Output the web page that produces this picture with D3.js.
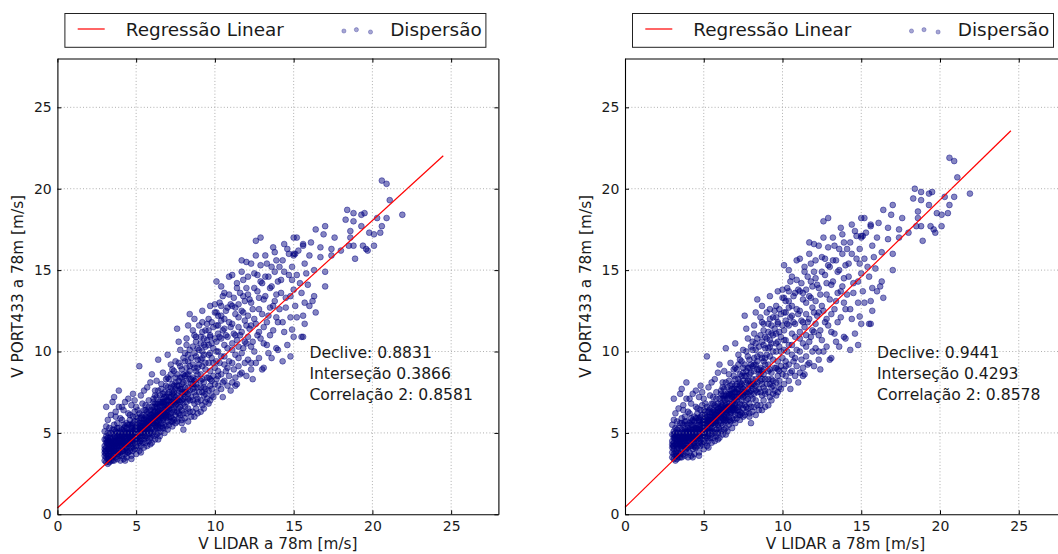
<!DOCTYPE html>
<html>
<head>
<meta charset="utf-8">
<script src="https://cdn.jsdelivr.net/npm/d3@7"></script>
<style>
  html, body { margin: 0; padding: 0; background: #fff; overflow: hidden; }
  svg { display: block; font-family: "DejaVu Sans", "Bitstream Vera Sans", sans-serif; }
</style>
</head>
<body>
<svg id="chart" width="1058" height="554"></svg>
<script>
// Wind speed at 78 m: LIDAR reference (x) against two PORT433 records (y), one pair per sample.
const lidar = [
  // 3.0-3.5
  3.0,3.0,3.0,3.0,3.0,3.1,3.1,3.1,3.1,3.1, 3.1,3.1,3.2,3.2,3.2,3.2,3.2,3.2,3.2,3.3,
  3.3,3.3,3.3,3.3,3.3,3.3,3.4,3.4,3.4,3.4, 3.4,3.4,3.5,3.5,3.5,3.5,3.5,3.5,3.0,3.1,
  3.2,3.3,3.4,3.5,3.0,3.2,3.4,3.1,3.3,3.5,
  // 3.5-4.0
  3.6,3.6,3.6,3.6,3.6,3.6,3.7,3.7,3.7,3.7, 3.7,3.7,3.8,3.8,3.8,3.8,3.8,3.8,3.9,3.9,
  3.9,3.9,3.9,3.9,4.0,4.0,4.0,4.0,4.0,4.0, 3.6,3.7,3.8,3.9,4.0,3.6,3.7,3.8,3.9,4.0,
  3.6,3.8,3.7,3.9,3.6,
  // 4.0-4.5
  4.1,4.1,4.1,4.1,4.1,4.1,4.2,4.2,4.2,4.2, 4.2,4.2,4.3,4.3,4.3,4.3,4.3,4.3,4.4,4.4,
  4.4,4.4,4.4,4.4,4.5,4.5,4.5,4.5,4.5,4.5, 4.1,4.2,4.3,4.4,4.5,4.1,4.2,4.3,4.4,4.5,
  4.2,4.4,4.1,4.3,4.5,
  // 4.5-5.0
  4.6,4.6,4.6,4.6,4.6,4.6,4.7,4.7,4.7,4.7, 4.7,4.7,4.8,4.8,4.8,4.8,4.8,4.8,4.9,4.9,
  4.9,4.9,4.9,4.9,5.0,5.0,5.0,5.0,5.0,5.0, 4.6,4.7,4.8,4.9,5.0,4.6,4.7,4.8,4.9,5.0,
  4.6,4.8,5.0,4.7,4.9,
  // 5.0-5.5
  5.1,5.1,5.1,5.1,5.1,5.1,5.2,5.2,5.2,5.2, 5.2,5.2,5.3,5.3,5.3,5.3,5.3,5.3,5.4,5.4,
  5.4,5.4,5.4,5.4,5.5,5.5,5.5,5.5,5.5,5.5, 5.1,5.2,5.3,5.4,5.5,5.2,5.4,5.1,5.3,5.5,
  5.3,5.5,
  // 5.5-6.0
  5.6,5.6,5.6,5.6,5.6,5.6,5.7,5.7,5.7,5.7, 5.7,5.7,5.8,5.8,5.8,5.8,5.8,5.8,5.9,5.9,
  5.9,5.9,5.9,5.9,6.0,6.0,6.0,6.0,6.0,6.0, 5.6,5.7,5.8,5.9,6.0,5.7,5.9,5.6,5.8,6.0,
  // 6.0-6.5
  6.1,6.1,6.1,6.1,6.1,6.1,6.2,6.2,6.2,6.2, 6.2,6.2,6.3,6.3,6.3,6.3,6.3,6.3,6.4,6.4,
  6.4,6.4,6.4,6.4,6.5,6.5,6.5,6.5,6.5,6.5, 6.1,6.2,6.3,6.4,6.5,6.2,6.4,6.3,
  // 6.5-7.0
  6.6,6.6,6.6,6.6,6.6,6.6,6.7,6.7,6.7,6.7, 6.7,6.7,6.8,6.8,6.8,6.8,6.8,6.8,6.9,6.9,
  6.9,6.9,6.9,6.9,7.0,7.0,7.0,7.0,7.0,7.0, 6.6,6.8,7.0,6.7,6.9,7.0,
  // 7.0-7.5
  7.1,7.1,7.1,7.1,7.1,7.1,7.2,7.2,7.2,7.2, 7.2,7.2,7.3,7.3,7.3,7.3,7.3,7.3,7.4,7.4,
  7.4,7.4,7.4,7.4,7.5,7.5,7.5,7.5,7.5,7.5, 7.2,7.4,
  // 7.5-8.0
  7.6,7.6,7.6,7.6,7.6,7.6,7.7,7.7,7.7,7.7, 7.7,7.7,7.8,7.8,7.8,7.8,7.8,7.8,7.9,7.9,
  7.9,7.9,7.9,7.9,8.0,8.0,8.0,8.0,8.0,8.0,
  // 8.0-8.5
  8.1,8.1,8.1,8.1,8.1,8.1,8.2,8.2,8.2,8.2, 8.2,8.2,8.3,8.3,8.3,8.3,8.3,8.3,8.4,8.4,
  8.4,8.4,8.4,8.4,8.5,8.5,
  // 8.5-9.0
  8.6,8.6,8.6,8.6,8.6,8.6,8.7,8.7,8.7,8.7, 8.7,8.7,8.8,8.8,8.8,8.8,8.8,8.8,8.9,8.9,
  8.9,8.9,8.9,9.0,
  // 9.0-9.5
  9.1,9.1,9.1,9.1,9.1,9.1,9.2,9.2,9.2,9.2, 9.2,9.2,9.3,9.3,9.3,9.3,9.3,9.4,9.4,9.4,
  9.4,9.5,
  // 9.5-10
  9.6,9.6,9.6,9.6,9.6,9.6,9.7,9.7,9.7,9.7, 9.7,9.8,9.8,9.8,9.8,9.9,9.9,9.9,10.0,10.0,
  // 10-11
  10.1,10.1,10.1,10.1,10.1,10.1,10.2,10.2,10.2,10.2, 10.2,10.4,10.4,10.4,10.4,10.4,10.4,10.5,10.6,10.6,
  10.6,10.6,10.6,10.7,10.8,10.8,10.8,10.9,10.9,11.0,
  // 11-12
  11.1,11.1,11.1,11.1,11.1,11.1,11.3,11.3,11.3,11.3, 11.4,11.4,11.5,11.5,11.5,11.5,11.7,11.7,11.7,11.7,
  11.8,11.8,11.9,11.9,12.0,12.0,
  // 12-13
  12.1,12.1,12.1,12.1,12.3,12.3,12.3,12.3,12.3,12.5, 12.5,12.5,12.6,12.6,12.7,12.7,12.8,12.8,12.9,12.9,
  12.4,12.9,
  // 13-14
  13.0,13.1,13.1,13.1,13.2,13.3,13.3,13.4,13.5,13.5, 13.6,13.7,13.7,13.8,13.8,13.9,13.9,14.0,
  // 14-15
  14.1,14.2,14.3,14.3,14.4,14.4,14.5,14.6,14.7,14.7, 14.8,14.8,14.9,14.9,15.0,15.0,
  // 15-16
  15.0,15.1,15.0,15.2,15.0,15.2,15.4,15.6,15.6,15.6, 15.6,15.7,15.7,15.8,15.5,
  // 16-17
  16.0,16.1,16.2,16.3,16.3,16.4,16.4,16.7,16.7,16.9,
  // 17-18
  17.0,17.0,17.0,17.4,17.4,17.6,18.0,
  // 18-19
  18.3,18.4,18.5,18.6,18.6,18.8,18.8,18.8,18.9,
  // 19-20
  19.3,19.3,19.4,19.5,19.6,19.7,19.8,
  // 20-22
  20.1,20.1,20.3,20.5,20.6,20.6,20.9,20.9,21.1,21.9,
  // second block: 6-8
  6.1,6.2,6.3,6.4,6.5,6.6,6.7,6.8,6.9,7.0, 7.0,7.1,7.1,7.2,7.2,7.3,7.3,7.4,7.4,7.5,
  7.5,7.6,7.6,7.7,7.7,7.8,7.8,7.9,7.9,8.0, 6.2,6.4,6.6,6.8,7.0,7.3,7.5,7.7,7.9,8.0,
  // second block: 8-10
  8.1,8.1,8.2,8.2,8.3,8.3,8.4,8.4,8.5,8.5, 8.6,8.6,8.7,8.7,8.8,8.8,8.9,8.9,9.0,9.0,
  9.0,9.1,9.1,9.2,9.2,9.3,9.3,9.4,9.4,9.5, 9.5,9.5,9.6,9.6,9.7,9.7,9.8,9.8,9.9,9.9,
  10.0,10.0,10.0,8.3,8.5,8.7,8.9,9.2,9.4,9.7,
  // second block: 10-12
  10.1,10.1,10.2,10.2,10.3,10.3,10.3,10.4,10.5,10.5, 10.5,10.6,10.6,10.7,10.7,10.8,10.8,10.9,10.9,11.0,
  11.0,11.1,11.2,11.2,11.2,11.3,11.4,11.4,11.5,11.5, 11.6,11.6,11.6,11.7,11.8,11.8,11.9,11.9,12.0,12.0,
  10.4,10.9,11.3,11.7,12.0,
  // second block: 12-14
  12.1,12.2,12.2,12.3,12.4,12.4,12.5,12.6,12.6,12.7, 12.8,12.8,12.9,13.0,13.0,13.1,13.2,13.2,13.3,13.4,
  13.4,13.5,13.6,13.6,13.7,13.8,13.9,13.9,14.0,14.0,
  // second block: 14-16
  14.1,14.2,14.3,14.4,14.5,14.6,14.8,14.9,15.1,15.2, 15.3,15.5,15.7,15.9,16.0,
  // second block: 3-7 core
  3.05,3.15,3.25,3.35,3.45,3.55,3.65,3.75,3.85,3.95, 4.05,4.15,4.25,4.35,4.45,4.55,4.65,4.75,4.85,4.95,
  5.05,5.15,5.25,5.35,5.45,5.55,5.65,5.75,5.85,5.95, 6.05,6.15,6.25,6.35,6.45,6.55,6.65,6.75,6.85,6.95,
  3.1,3.3,3.5,3.7,3.9,4.1,4.3,4.5,4.7,4.9, 5.1,5.3,5.5,5.7,5.9,6.1,6.3,6.5,6.7,6.9
];

const port433A = [
  3.3,3.8,4.2,4.6,5.1,3.2,3.5,3.9,4.4,4.8, 5.4,6.6,3.1,3.6,4.0,4.3,4.7,5.0,5.8,3.4,
  3.7,4.1,4.5,4.9,3.2,5.3,3.3,3.8,4.2,4.6, 5.0,6.1,3.5,3.9,4.3,4.7,5.2,6.9,3.6,4.1,
  4.5,3.9,4.4,4.0,4.0,3.4,3.6,3.7,4.3,3.3,

  3.3,3.7,4.1,4.5,4.9,5.5,3.5,3.9,4.3,4.7, 5.1,6.3,3.4,3.8,4.2,4.6,5.0,5.6,3.6,4.0,
  4.4,4.8,5.3,7.6,3.3,3.8,4.2,4.6,5.0,5.9, 4.3,4.0,4.4,4.2,4.4,3.9,4.5,4.8,3.8,4.8,
  5.2,5.3,6.0,6.6,7.2,

  3.6,4.0,4.4,4.8,5.2,5.8,3.4,3.9,4.3,4.7, 5.1,6.4,3.7,4.1,4.5,4.9,5.4,6.9,3.5,3.9,
  4.3,4.7,5.0,5.6,3.8,4.2,4.6,5.0,5.5,6.2, 4.6,4.5,4.3,4.5,4.4,4.2,4.9,5.1,4.1,4.8,
  5.5,5.3,6.6,3.3,7.1,

  3.9,4.3,4.7,5.1,5.5,6.1,3.6,4.1,4.5,4.9, 5.3,6.7,3.9,4.3,4.7,5.1,5.6,7.4,4.0,4.4,
  4.8,5.2,5.7,6.3,3.7,4.2,4.6,5.0,5.4,6.0, 4.9,4.7,4.5,5.0,4.8,4.5,5.1,4.9,4.6,5.2,
  5.8,6.0,6.6,3.4,7.0,

  4.1,4.5,4.9,5.3,5.7,6.4,3.9,4.4,4.8,5.2, 5.6,9.1,4.2,4.6,5.0,5.4,5.9,7.3,4.4,4.8,
  5.2,5.6,6.1,6.8,4.1,4.6,5.0,5.4,5.8,6.4, 5.1,5.0,5.2,5.4,5.2,6.2,5.0,4.7,5.6,7.6,
  3.8,5.6,

  4.4,4.8,5.2,5.6,6.0,6.7,4.2,4.7,5.1,5.5, 5.9,7.8,4.5,4.9,5.3,5.7,6.2,7.0,4.7,5.1,
  5.5,5.9,6.4,8.1,4.4,4.9,5.3,5.7,6.1,6.6, 5.4,5.3,5.5,5.7,5.9,6.3,4.3,6.4,6.6,8.6,

  4.8,5.2,5.6,6.0,6.4,7.1,4.6,5.1,5.5,5.9, 6.3,7.6,4.9,5.3,5.7,6.1,6.6,8.2,5.0,5.5,
  5.9,6.3,6.8,9.5,4.8,5.3,5.8,6.2,6.6,7.3, 5.8,6.0,6.0,6.1,6.0,6.8,4.6,7.2,

  5.1,5.6,6.0,6.4,6.9,7.7,5.3,5.8,6.2,6.6, 7.1,8.7,5.0,5.5,6.0,6.4,6.9,7.5,5.4,5.9,
  6.3,6.7,7.2,8.3,5.2,5.7,6.1,6.6,7.0,7.8, 6.2,6.7,6.4,7.4,6.5,9.8,

  5.5,6.0,6.5,7.0,7.5,8.3,5.7,6.2,6.7,7.2, 7.8,9.2,5.4,5.9,6.4,6.9,7.4,8.0,5.8,6.3,
  6.8,7.3,7.9,8.8,5.6,6.1,6.7,7.2,7.7,8.4, 6.9,7.0,

  5.7,6.3,6.8,7.3,7.9,11.4,5.9,6.5,7.0,7.6, 8.2,9.3,6.1,6.6,7.2,7.7,8.4,10.1,5.8,6.4,
  7.0,7.5,8.0,8.9,5.2,6.2,6.8,7.4,8.1,9.6,

  5.9,6.6,7.2,7.8,8.5,9.4,6.2,6.9,7.5,8.2, 9.0,10.4,5.7,6.5,7.1,7.8,8.6,9.8,6.3,7.0,
  7.6,8.3,9.1,12.3,6.0,8.0,

  6.3,7.0,7.7,8.4,9.2,10.3,6.0,6.8,7.5,8.2, 9.0,11.0,6.5,7.3,8.0,8.8,9.7,10.6,6.2,7.1,
  7.8,8.6,9.5,10.1,

  6.3,7.0,7.8,8.6,9.5,10.5,6.7,7.5,8.3,9.1, 10.0,11.2,6.5,7.3,8.1,9.8,10.8,6.9,7.7,8.9,
  10.3,11.7,

  6.8,7.6,8.4,9.3,10.4,11.3,7.0,7.9,8.8,9.9, 10.9,7.3,8.2,9.6,11.8,7.2,8.5,10.2,9.0,12.4,

  7.5,8.3,9.4,10.6,11.6,14.3,7.9,8.8,10.0,11.1, 12.2,7.7,8.6,9.7,10.8,11.9,12.8,7.2,8.2,9.2,
  10.4,11.4,13.6,12.5,7.9,9.0,10.9,11.8,8.5,7.6,

  8.1,9.3,10.5,11.7,12.8,14.7,8.4,9.8,11.0,12.3, 8.0,13.9,9.1,10.3,11.5,12.9,8.7,9.9,11.2,12.5,
  13.4,14.4,10.6,11.9,8.5,15.5,

  9.5,10.9,12.2,13.5,8.9,10.3,11.6,13.0,9.3,14.8, 12.0,10.0,16.8,15.9,11.0,13.7,9.6,12.6,14.3,17.0,
  8.3,10.8,

  8.9,11.5,13.2,9.0,14.6,15.4,10.4,12.2,13.9,11.0, 9.6,16.4,12.8,16.1,14.9,10.2,13.5,11.8,

  12.6,14.4,9.4,15.6,16.6,11.2,13.3,10.4,16.0,14.7, 9.7,12.1,15.2,11.35,10.9,13.8,

  15.9,16.0,16.0,17.0,17.0,12.1,14.2,16.5,16.6,12.2, 10.9,13.0,11.7,14.8,10.9,

  15.9,16.7,13.1,15.0,13.4,12.4,17.5,16.4,15.8,17.2,

  14.9,14.0,17.7,16.3,15.9,17.0,16.2,

  18.1,18.7,16.5,17.4,17.0,18.0,18.5,16.5,15.7,

  18.4,17.7,16.5,18.5,16.3,16.2,17.3,

  17.2,16.5,18.2,17.3,17.7,20.5,20.3,18.2,19.3,18.4,

  6.9,7.3,5.6,7.6,6.9,8.0,5.9,7.2,7.9,6.3, 8.4,7.2,6.7,8.6,6.0,7.6,8.9,6.5,7.5,8.1,
  6.9,7.0,8.6,6.2,7.9,9.1,6.9,7.7,8.4,7.1, 6.6,5.4,6.8,6.2,7.4,5.7,9.4,10.6,5.6,8.6,

  9.9,7.5,10.8,8.6,9.4,7.4,10.1,8.8,9.6,7.2, 11.3,8.0,9.9,7.8,10.9,8.3,10.2,6.9,11.6,9.2,
  7.5,10.9,8.2,11.8,9.6,10.4,7.8,11.3,9.3,10.7, 8.4,7.1,12.0,9.8,11.0,8.3,10.5,7.7,11.5,9.3,
  10.8,8.0,12.9,11.6,8.3,12.0,9.0,12.5,7.4,12.8,

  12.4,10.0,11.6,8.5,13.0,10.9,9.3,12.2,11.3,8.1, 13.4,12.0,9.7,11.0,8.8,12.7,10.2,13.5,9.4,11.5,
  12.9,10.1,13.3,11.1,8.9,12.7,10.7,14.2,9.6,12.1, 13.6,11.0,8.6,14.9,12.4,10.2,13.1,9.3,11.6,13.9,
  14.0,14.6,7.9,15.6,10.5,

  14.6,11.4,13.2,15.4,12.6,10.6,13.9,11.7,9.3,14.7, 13.3,11.2,15.3,12.3,14.2,10.5,13.4,15.9,11.8,14.6,
  9.9,12.7,15.2,14.0,11.3,13.1,15.6,12.1,14.3,10.1,

  15.2,13.6,11.8,14.9,12.7,16.3,13.4,14.4,12.8,14.7, 16.2,13.6,15.4,14.1,12.8,

  3.9,4.4,3.6,4.7,4.1,3.6,4.8,4.2,3.7,5.1, 4.5,3.9,5.3,4.4,3.8,5.0,4.6,5.5,4.1,5.3,
  4.7,5.5,4.5,6.0,5.1,4.8,5.8,5.2,6.0,5.0, 5.6,6.3,5.4,6.5,5.7,6.2,5.4,6.8,6.1,7.0,
  4.6,4.0,4.5,4.4,4.6,4.9,4.8,4.9,5.4,4.9, 5.9,5.3,5.9,5.7,6.1,6.2,6.8,6.4,6.9,6.0
];

const port433B = [
  3.5,4.1,4.5,4.9,5.5,3.4,3.7,4.2,4.7,5.1, 5.8,7.1,3.3,3.8,4.3,4.6,5.0,5.3,6.2,3.6,
  4.0,4.4,4.8,5.2,3.4,5.7,3.5,4.1,4.5,4.9, 5.3,6.5,3.7,4.2,4.6,5.0,5.6,7.4,3.8,4.4,
  4.8,4.2,4.7,4.3,4.3,3.6,3.8,4.0,4.6,3.5,

  3.5,4.0,4.4,4.8,5.2,5.9,3.7,4.2,4.6,5.0, 5.5,6.7,3.6,4.1,4.5,4.9,5.3,6.0,3.8,4.3,
  4.7,5.1,5.7,8.1,3.5,4.1,4.5,4.9,5.3,6.3, 4.6,4.3,4.7,4.5,4.7,4.2,4.8,5.1,4.1,5.1,
  5.6,5.7,6.4,7.1,7.7,

  3.8,4.3,4.7,5.1,5.6,6.2,3.6,4.2,4.6,5.0, 5.5,6.8,4.0,4.4,4.8,5.2,5.8,7.4,3.7,4.2,
  4.6,5.0,5.3,6.0,4.1,4.5,4.9,5.3,5.9,6.6, 4.9,4.8,4.6,4.8,4.7,4.5,5.2,5.5,4.4,5.1,
  5.9,5.7,7.1,3.5,7.6,

  4.2,4.6,5.0,5.5,5.9,6.5,3.8,4.4,4.8,5.2, 5.7,7.2,4.2,4.6,5.0,5.5,6.0,7.9,4.3,4.7,
  5.1,5.6,6.1,6.7,4.0,4.5,4.9,5.3,5.8,6.4, 5.2,5.0,4.8,5.3,5.1,4.8,5.5,5.2,4.9,5.6,
  6.2,6.4,7.1,3.6,7.5,

  4.4,4.8,5.2,5.7,6.1,6.8,4.2,4.7,5.1,5.6, 6.0,9.7,4.5,4.9,5.3,5.8,6.3,7.8,4.7,5.1,
  5.6,6.0,6.5,7.3,4.4,4.9,5.3,5.8,6.2,6.8, 5.5,5.3,5.6,5.8,5.6,6.6,5.3,5.0,6.0,8.1,
  4.1,6.0,

  4.7,5.1,5.6,6.0,6.4,7.2,4.5,5.0,5.5,5.9, 6.3,8.3,4.8,5.2,5.7,6.1,6.6,7.5,5.0,5.5,
  5.9,6.3,6.8,8.7,4.7,5.2,5.7,6.1,6.5,7.1, 5.8,5.7,5.9,6.1,6.3,6.7,4.6,6.8,7.1,9.2,

  5.1,5.6,6.0,6.4,6.8,7.6,4.9,5.5,5.9,6.3, 6.7,8.1,5.2,5.7,6.1,6.5,7.1,8.8,5.3,5.9,
  6.3,6.7,7.3,10.2,5.1,5.7,6.2,6.6,7.1,7.8, 6.2,6.4,6.4,6.5,6.4,7.3,4.9,7.7,

  5.5,6.0,6.4,6.8,7.4,8.2,5.7,6.2,6.6,7.1, 7.6,9.3,5.3,5.9,6.4,6.8,7.4,8.0,5.8,6.3,
  6.7,7.2,7.7,8.9,5.6,6.1,6.5,7.1,7.5,8.3, 6.6,7.2,6.8,7.9,7.0,10.5,

  5.9,6.4,7.0,7.5,8.0,8.9,6.1,6.6,7.2,7.7, 8.3,9.8,5.8,6.3,6.8,7.4,7.9,8.6,6.2,6.7,
  7.3,7.8,8.5,9.4,6.0,6.5,7.2,7.7,8.2,9.0, 7.4,7.5,

  6.1,6.7,7.3,7.8,8.5,12.2,6.3,7.0,7.5,8.1, 8.8,10.0,6.5,7.1,7.7,8.2,9.0,10.8,6.2,6.8,
  7.5,8.0,8.6,9.5,5.6,6.6,7.3,7.9,8.7,10.3,

  6.3,7.1,7.7,8.3,9.1,10.1,6.6,7.4,8.0,8.8, 9.6,11.1,6.1,7.0,7.6,8.3,9.2,10.5,6.7,7.5,
  8.1,8.9,9.7,13.2,6.4,8.6,

  6.7,7.5,8.2,9.0,9.8,11.0,6.4,7.3,8.0,8.8, 9.6,11.8,7.0,7.8,8.6,9.4,10.4,11.3,6.6,7.6,
  8.3,9.2,10.2,10.8,

  6.7,7.5,8.3,9.2,10.2,11.2,7.2,8.0,8.9,9.7, 10.7,12.0,7.0,7.8,8.7,10.5,11.6,7.4,8.2,9.5,
  11.0,12.5,

  7.3,8.1,9.0,10.0,11.1,12.1,7.5,8.5,9.4,10.6, 11.7,7.8,8.8,10.3,12.6,7.7,9.1,10.9,9.6,13.3,

  8.0,8.9,10.1,11.3,12.4,15.3,8.5,9.4,10.7,11.9, 13.1,8.2,9.2,10.4,11.6,12.7,13.7,7.7,8.8,9.8,
  11.1,12.2,14.6,13.4,8.5,9.6,11.7,12.6,9.1,8.1,

  8.7,10.0,11.2,12.5,13.7,15.7,9.0,10.5,11.8,13.2, 8.6,14.9,9.7,11.0,12.3,13.8,9.3,10.6,12.0,13.4,
  14.3,15.4,11.3,12.7,9.1,16.6,

  10.2,11.7,13.1,14.5,9.5,11.0,12.4,13.9,10.0,15.8, 12.8,10.7,18.0,17.0,11.8,14.7,10.3,13.5,15.3,18.2,
  8.9,11.6,

  9.5,12.3,14.1,9.6,15.6,16.5,11.1,13.1,14.9,11.8, 10.3,17.6,13.7,17.2,16.0,10.9,14.5,12.6,

  13.5,15.4,10.1,16.7,17.8,12.0,14.2,11.1,17.1,15.7, 10.4,13.0,16.3,12.15,11.7,14.8,

  17.0,17.1,17.1,18.2,18.2,13.0,15.2,17.7,17.8,13.1, 11.7,13.9,12.5,15.8,11.7,

  17.0,17.9,14.0,16.1,14.3,13.3,18.7,17.6,16.9,18.4,

  16.0,15.0,19.0,17.5,17.0,18.2,17.3,

  19.4,20.0,17.7,18.6,18.2,19.3,19.8,17.7,16.8,

  19.7,19.0,17.7,19.8,17.5,17.3,18.5,

  18.4,17.7,19.5,18.5,19.0,21.9,21.7,19.5,20.7,19.7,

  7.4,7.8,6.0,8.1,7.4,8.6,6.3,7.7,8.5,6.7, 9.0,7.7,7.2,9.2,6.4,8.1,9.5,7.0,8.0,8.7,
  7.4,7.5,9.2,6.6,8.5,9.7,7.4,8.2,9.0,7.6, 7.1,5.8,7.3,6.6,7.9,6.1,10.1,11.4,6.0,9.2,

  10.6,8.0,11.6,9.2,10.1,7.9,10.8,9.4,10.3,7.7, 12.1,8.6,10.6,8.3,11.7,8.9,10.9,7.4,12.4,9.8,
  8.0,11.7,8.8,12.6,10.3,11.1,8.3,12.1,10.0,11.4, 9.0,7.6,12.8,10.5,11.8,8.9,11.2,8.2,12.3,10.0,
  11.6,8.6,13.8,12.4,8.9,12.8,9.6,13.4,7.9,13.7,

  13.3,10.7,12.4,9.1,13.9,11.7,10.0,13.1,12.1,8.7, 14.3,12.8,10.4,11.8,9.4,13.6,10.9,14.4,10.1,12.3,
  13.8,10.8,14.2,11.9,9.5,13.6,11.5,15.2,10.3,13.0, 14.6,11.8,9.2,16.0,13.3,10.9,14.0,10.0,12.4,14.9,
  15.0,15.6,8.5,16.7,11.2,

  15.6,12.2,14.1,16.5,13.5,11.3,14.9,12.5,10.0,15.7, 14.2,12.0,16.4,13.2,15.2,11.2,14.3,17.0,12.6,15.6,
  10.6,13.6,16.3,15.0,12.1,14.0,16.7,13.0,15.3,10.8,

  16.3,14.6,12.6,16.0,13.6,17.4,14.3,15.4,13.7,15.7, 17.3,14.6,16.5,15.1,13.7,

  4.2,4.7,3.8,5.0,4.4,3.8,5.1,4.5,4.0,5.5, 4.8,4.2,5.7,4.7,4.1,5.3,4.9,5.9,4.4,5.7,
  5.0,5.9,4.8,6.4,5.5,5.1,6.2,5.6,6.4,5.3, 6.0,6.7,5.8,7.0,6.1,6.6,5.8,7.3,6.5,7.5,
  4.9,4.3,4.8,4.7,4.9,5.2,5.1,5.2,5.8,5.2, 6.3,5.7,6.3,6.1,6.5,6.6,7.3,6.8,7.4,6.4
];

// Least-squares fit results for each record
const slopes = [0.8831, 0.9441];
const intercepts = [0.3866, 0.4293];
const r2 = [0.8581, 0.8578];
const fitRange = [0, 24.5];

const tickValues = [0, 5, 10, 15, 20, 25];
const axisDomain = [0, 28];
const legendLabels = ["Regressão Linear", "Dispersão"];
const xTitle = "V LIDAR a 78m [m/s]";
const yTitle = "V PORT433 a 78m [m/s]";

const svg = d3.select("#chart");
svg.append("rect").attr("width", 1058).attr("height", 554).attr("fill", "#fff");

const FONT = '"DejaVu Sans", "Bitstream Vera Sans", sans-serif';
const plotW = 441, plotTop = 58.5, plotBottom = 514.3;
const panelLefts = [57.4, 625];
const series = [port433A, port433B];
const navy = "#000080";

panelLefts.forEach((left, p) => {
  const ys = series[p];
  const n = Math.min(lidar.length, ys.length);
  const x = d3.scaleLinear().domain(axisDomain).range([left, left + plotW]);
  const y = d3.scaleLinear().domain(axisDomain).range([plotBottom, plotTop]);
  const g = svg.append("g");

  // scatter
  g.append("g")
    .selectAll("circle")
    .data(d3.range(n))
    .join("circle")
    .attr("cx", i => x(lidar[i]))
    .attr("cy", i => y(ys[i]))
    .attr("r", 2.9)
    .attr("fill", navy)
    .attr("fill-opacity", 0.48)
    .attr("stroke", navy)
    .attr("stroke-opacity", 0.5)
    .attr("stroke-width", 0.9);

  // regression line
  g.append("line")
    .attr("x1", x(fitRange[0])).attr("y1", y(slopes[p] * fitRange[0] + intercepts[p]))
    .attr("x2", x(fitRange[1])).attr("y2", y(slopes[p] * fitRange[1] + intercepts[p]))
    .attr("stroke", "#ff0000").attr("stroke-width", 1.2);

  // dotted grid
  const grid = g.append("g").attr("stroke", "#9a9a9a").attr("stroke-width", 0.8)
    .attr("stroke-dasharray", "1,2.2");
  grid.selectAll(".gx").data(tickValues.slice(1)).join("line")
    .attr("x1", d => x(d)).attr("x2", d => x(d)).attr("y1", plotTop).attr("y2", plotBottom);
  grid.selectAll(".gy").data(tickValues.slice(1)).join("line")
    .attr("y1", d => y(d)).attr("y2", d => y(d)).attr("x1", left).attr("x2", left + plotW);

  // axes with inward ticks on all four sides
  const styleAxis = sel => {
    sel.attr("font-family", FONT).attr("font-size", 14);
    sel.selectAll("path.domain").attr("stroke", "#000").attr("stroke-width", 1.1);
    sel.selectAll(".tick line").attr("stroke", "#000").attr("stroke-width", 1);
    sel.selectAll(".tick text").attr("fill", "#1a1a1a");
  };
  g.append("g").attr("transform", `translate(0,${plotBottom})`)
    .call(d3.axisBottom(x).tickValues(tickValues).tickSizeInner(-4).tickSizeOuter(0).tickPadding(6.8))
    .call(styleAxis);
  g.append("g").attr("transform", `translate(${left},0)`)
    .call(d3.axisLeft(y).tickValues(tickValues).tickSizeInner(-4).tickSizeOuter(0).tickPadding(5.7))
    .call(styleAxis);
  g.append("g").attr("transform", `translate(0,${plotTop})`)
    .call(d3.axisTop(x).tickValues(tickValues).tickSizeInner(-4).tickSizeOuter(0).tickFormat(""))
    .call(styleAxis);
  g.append("g").attr("transform", `translate(${left + plotW},0)`)
    .call(d3.axisRight(y).tickValues(tickValues).tickSizeInner(-4).tickSizeOuter(0).tickFormat(""))
    .call(styleAxis);

  // axis titles
  g.append("text")
    .attr("x", left + plotW / 2).attr("y", 549)
    .attr("text-anchor", "middle").attr("font-family", FONT).attr("font-size", 15.3)
    .attr("fill", "#1a1a1a").text(xTitle);
  g.append("text")
    .attr("transform", `translate(${left - 34},${(plotTop + plotBottom) / 2}) rotate(-90)`)
    .attr("text-anchor", "middle").attr("font-family", FONT).attr("font-size", 15.3)
    .attr("fill", "#1a1a1a").text(yTitle);

  // fit annotation
  const notes = [
    `Declive: ${slopes[p].toFixed(4)}`,
    `Interseção ${intercepts[p].toFixed(4)}`,
    `Correlação 2: ${r2[p].toFixed(4)}`
  ];
  g.append("g").selectAll("text").data(notes).join("text")
    .attr("x", x(16)).attr("y", (d, i) => y(10) + 6 + i * 21)
    .attr("font-family", FONT).attr("font-size", 15.6).attr("fill", "#1a1a1a")
    .text(d => d);

  // legend
  const lg = g.append("g").attr("transform", `translate(${left + 7.5},13.5)`);
  lg.append("rect").attr("width", 421).attr("height", 33.8)
    .attr("fill", "#fff").attr("stroke", "#222").attr("stroke-width", 1);
  lg.append("line").attr("x1", 12.8).attr("x2", 39.8).attr("y1", 15.5).attr("y2", 15.5)
    .attr("stroke", "#ff0000").attr("stroke-width", 1.2);
  lg.append("text").attr("x", 60.8).attr("y", 22)
    .attr("font-family", FONT).attr("font-size", 18.4).attr("fill", "#1a1a1a").text(legendLabels[0]);
  lg.selectAll("circle.key").data([[279, 17.5], [291.5, 16.2], [305.6, 18.5]]).join("circle")
    .attr("cx", d => d[0]).attr("cy", d => d[1]).attr("r", 2.1)
    .attr("fill", navy).attr("fill-opacity", 0.35)
    .attr("stroke", navy).attr("stroke-opacity", 0.35).attr("stroke-width", 0.8);
  lg.append("text").attr("x", 325.3).attr("y", 22)
    .attr("font-family", FONT).attr("font-size", 18.4).attr("fill", "#1a1a1a").text(legendLabels[1]);
});
</script>
</body>
</html>
